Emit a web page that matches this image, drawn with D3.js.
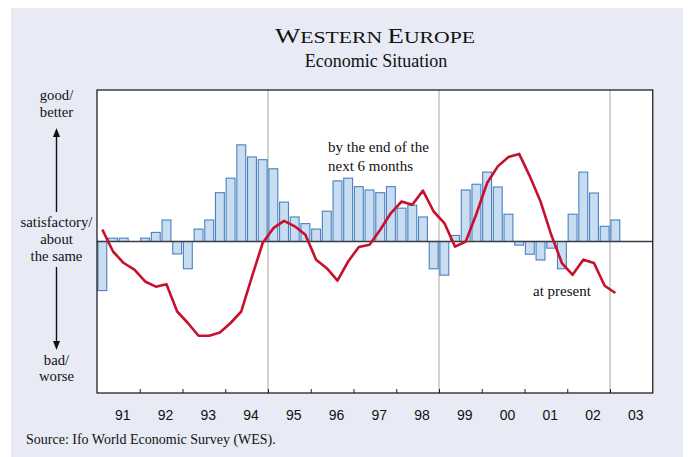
<!DOCTYPE html>
<html>
<head>
<meta charset="utf-8">
<script src="https://cdn.jsdelivr.net/npm/d3@7"></script>
<style>
  body { margin: 0; background: #ffffff; }
  text { font-family: "Liberation Serif", "Times New Roman", serif; fill: #111; }
  .tick-lbl { font-family: "Liberation Sans", Arial, sans-serif; font-size: 14px; }
</style>
</head>
<body>
<script>
// year labels under the axis (one band per year)
var years = ["91", "92", "93", "94", "95", "96", "97", "98", "99", "00", "01", "02", "03"];
var firstYear = 1991;
// years where a vertical grey divider is drawn
var gridYears = [1995, 1999, 2003];

// quarterly balances 1991 Q1 .. 2003 Q1
//* bars: present situation
var presentVals = [-16.2, 1.1, 1.1, 0, 1.1, 3.0, 7.1, -4.1,
                   -9.0, 4.1, 7.1, 16.1, 20.9, 31.9, 27.9, 27.0,
                   24.0, 13.0, 8.1, 5.9, 4.1, 10.0, 20.0, 20.9,
                   18.1, 17.0, 16.1, 18.1, 11.0, 12.0, 8.1, -9.0,
                   -11.1, 2.0, 17.0, 18.9, 22.9, 18.0, 9.0, -1.2,
                   -4.2, -6.1, -2.2, -9.0, 9.0, 22.9, 16.0, 5.0,
                   7.1];
//* line: expectations for the next 6 months
var expectVals = [3.9, -3.3, -7.1, -9.3, -13.2, -14.9, -14.1, -23.1,
                  -26.9, -31.1, -31.1, -30.0, -26.9, -23.1, -11.6, -0.5,
                  4.4, 6.8, 5.0, 2.2, -6.0, -8.8, -12.9, -6.6,
                  -1.8, -1.1, 3.9, 9.4, 13.2, 12.1, 16.8, 9.9,
                  6.1, -1.7, 0, 9.1, 19.3, 24.8, 27.9, 28.9,
                  21.5, 13.2, 2.2, -7.1, -11.0, -6.0, -7.1, -14.6,
                  -17.0];

var w = 688, h = 457;
var pLeft = 97, pRight = 652.75, pTop = 90, pBottom = 393;

var svg = d3.select("body")
            .append("svg")
            .attr("width", w)
            .attr("height", h);

//? light panel behind everything
svg.append("rect")
   .attr("x", 11).attr("y", 8)
   .attr("width", 672).attr("height", 449)
   .attr("fill", "#e8ebf5");

//? plot area
svg.append("rect")
   .attr("x", pLeft).attr("y", pTop)
   .attr("width", pRight - pLeft).attr("height", pBottom - pTop)
   .attr("fill", "#ffffff");

//* scales
var xScale = d3.scaleLinear()
               .domain([firstYear, firstYear + years.length])
               .range([pLeft, pRight]);
var yScale = d3.scaleLinear()
               .domain([-50, 50])
               .range([pBottom, pTop]);
var q = (xScale(firstYear + 0.25) - xScale(firstYear));

//* grey dividers
svg.selectAll(".grid")
   .data(gridYears)
   .enter().append("line")
   .attr("class", "grid")
   .attr("x1", d => xScale(d)).attr("x2", d => xScale(d))
   .attr("y1", pTop).attr("y2", pBottom)
   .attr("stroke", "#b4b4b4")
   .attr("stroke-width", 1.2);

//* x-axis: ticks on year boundaries pointing inside
var tickYears = d3.range(firstYear + 1, firstYear + years.length);
var xAxis = d3.axisBottom(xScale)
              .tickValues(tickYears)
              .tickSize(-4)
              .tickFormat("");
svg.append("g")
   .attr("transform", "translate(0," + pBottom + ")")
   .attr("id", "x-axis")
   .call(xAxis)
   .call(g => g.select(".domain").remove())
   .call(g => g.selectAll("line").attr("stroke", "#222"));

svg.selectAll(".tick-lbl")
   .data(years)
   .enter().append("text")
   .attr("class", "tick-lbl")
   .attr("x", (d, i) => xScale(firstYear + i + 0.5) + 4.5)
   .attr("y", 419.5)
   .attr("text-anchor", "middle")
   .text(d => d);

//* bars
svg.selectAll(".bar")
   .data(presentVals)
   .enter().append("rect")
   .attr("class", "bar")
   .attr("x", (d, i) => xScale(firstYear + i / 4) + 0.9)
   .attr("width", q - 1.8)
   .attr("y", d => Math.min(yScale(d), yScale(0)))
   .attr("height", d => Math.abs(yScale(d) - yScale(0)))
   .attr("fill", "#c8ddef")
   .attr("stroke", "#4a80c2")
   .attr("stroke-width", 1.1);

//* zero line
svg.append("line")
   .attr("x1", pLeft).attr("x2", pRight)
   .attr("y1", yScale(0)).attr("y2", yScale(0))
   .attr("stroke", "#3a3f47")
   .attr("stroke-width", 1.6);

//* expectations line
var line = d3.line()
             .x((d, i) => xScale(firstYear + (i + 0.5) / 4))
             .y(d => yScale(d));
svg.append("path")
   .datum(expectVals)
   .attr("d", line)
   .attr("fill", "none")
   .attr("stroke", "#c8102e")
   .attr("stroke-width", 2.6)
   .attr("stroke-linejoin", "round");

//? frame around the plot
svg.append("rect")
   .attr("x", pLeft).attr("y", pTop)
   .attr("width", pRight - pLeft).attr("height", pBottom - pTop)
   .attr("fill", "none")
   .attr("stroke", "#111")
   .attr("stroke-width", 1.2);

//? title (small caps)
var title = svg.append("text")
               .attr("x", 375).attr("y", 42.5)
               .attr("text-anchor", "middle")
               .attr("textLength", 200)
               .attr("lengthAdjust", "spacingAndGlyphs");
[["W", 21], ["ESTERN ", 17], ["E", 21], ["UROPE", 17]].forEach(p => {
  title.append("tspan").style("font-size", p[1] + "px").text(p[0]);
});

svg.append("text")
   .attr("x", 376).attr("y", 67)
   .attr("text-anchor", "middle")
   .style("font-size", "18px")
   .text("Economic Situation");

//? left side scale labels
var sideLbls = [["good/", 100], ["better", 117], ["satisfactory/", 226.5], ["about", 243.5],
                ["the same", 260.5], ["bad/", 365], ["worse", 381]];
svg.selectAll(".side")
   .data(sideLbls)
   .enter().append("text")
   .attr("class", "side")
   .attr("x", 56.5)
   .attr("y", d => d[1])
   .attr("text-anchor", "middle")
   .style("font-size", "14.7px")
   .text(d => d[0]);

// arrows
svg.append("line").attr("x1", 56.5).attr("x2", 56.5).attr("y1", 212).attr("y2", 134)
   .attr("stroke", "#111").attr("stroke-width", 1.4);
svg.append("path").attr("d", "M56.5,128 L53,137 L60,137 Z").attr("fill", "#111");
svg.append("line").attr("x1", 56.5).attr("x2", 56.5).attr("y1", 267).attr("y2", 344)
   .attr("stroke", "#111").attr("stroke-width", 1.4);
svg.append("path").attr("d", "M56.5,350 L53,341 L60,341 Z").attr("fill", "#111");

//? annotations
svg.append("text").attr("x", 328).attr("y", 152).style("font-size", "15px").text("by the end of the");
svg.append("text").attr("x", 328).attr("y", 170.5).style("font-size", "15px").text("next 6 months");
svg.append("text").attr("x", 533).attr("y", 296).style("font-size", "15px").text("at present");

svg.append("text")
   .attr("x", 26).attr("y", 444)
   .style("font-size", "14px")
   .text("Source: Ifo World Economic Survey (WES).");
</script>
</body>
</html>
